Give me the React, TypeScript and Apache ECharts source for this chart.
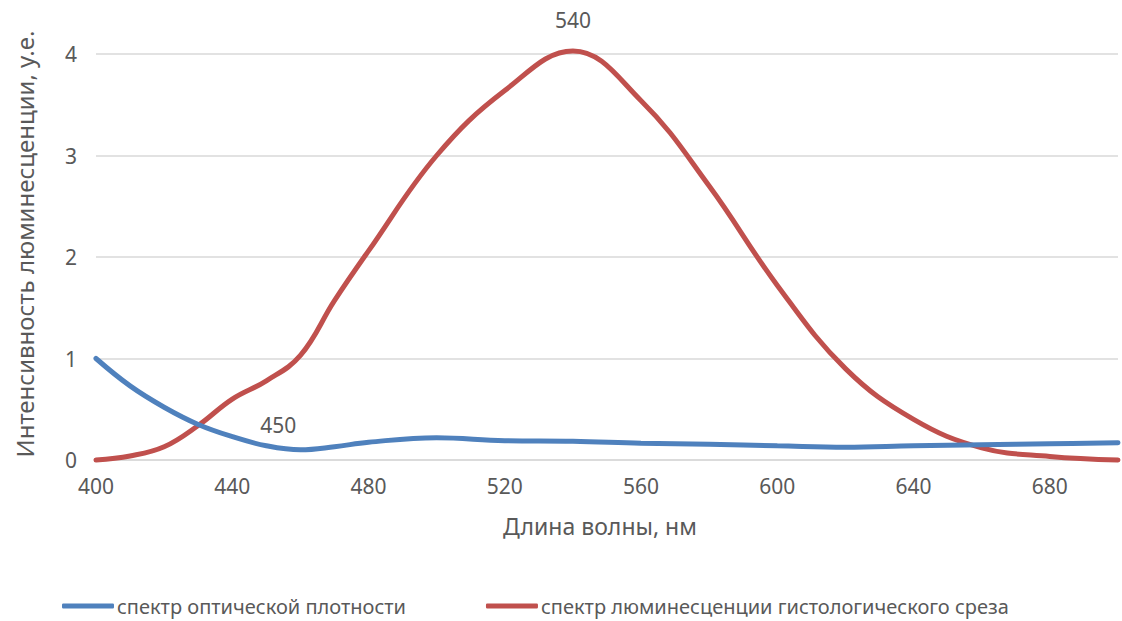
import React, { useEffect, useRef } from "react";
import * as echarts from "echarts";

const wavelengths = [400, 410, 420, 430, 440, 450, 460, 470, 480, 500, 520, 540, 560, 580, 600, 620, 640, 660, 680, 700];
const opticalDensity = [1.0, 0.73, 0.52, 0.35, 0.23, 0.14, 0.1, 0.13, 0.175, 0.22, 0.19, 0.185, 0.165, 0.155, 0.14, 0.125, 0.14, 0.15, 0.16, 0.17];
const luminescence = [0.0, 0.04, 0.13, 0.34, 0.6, 0.78, 1.03, 1.57, 2.06, 3.0, 3.64, 4.03, 3.54, 2.7, 1.72, 0.9, 0.4, 0.12, 0.035, 0.0];
const seriesNames = ["спектр оптической плотности", "спектр люминесценции гистологического среза"];
const labeledBlue = 450;
const labeledRed = 540;

const FONT = "'Noto Sans', 'Open Sans', sans-serif";
const TEXT = "#595959";

export default function App() {
  const ref = useRef<HTMLDivElement>(null);
  useEffect(() => {
    if (!ref.current) return;
    const chart = echarts.init(ref.current, null, { renderer: "svg" });
    const blueData = wavelengths.map((w, i) => {
      const item: any = { value: [w, opticalDensity[i]] };
      if (w === labeledBlue) {
        item.label = { show: true, position: "top", distance: 10, offset: [12, 0], formatter: String(w), color: TEXT, fontSize: 21, fontFamily: FONT };
      }
      return item;
    });
    const redData = wavelengths.map((w, i) => {
      const item: any = { value: [w, luminescence[i]] };
      if (w === labeledRed) {
        item.label = { show: true, position: "top", distance: 20, formatter: String(w), color: TEXT, fontSize: 21, fontFamily: FONT };
      }
      return item;
    });
    chart.setOption({
      animation: false,
      textStyle: { fontFamily: FONT, color: TEXT },
      grid: { left: 96, right: 4, top: 54, bottom: 161, containLabel: false },
      xAxis: {
        type: "value",
        min: 400,
        max: 700,
        interval: 40,
        name: "Длина волны, нм",
        nameLocation: "middle",
        nameGap: 54,
        nameTextStyle: { fontSize: 23, color: TEXT, fontFamily: FONT, padding: [0, 14, 0, 0] },
        axisLine: { show: true, lineStyle: { color: "#D9D9D9", width: 1.5 } },
        axisTick: { show: false },
        splitLine: { show: false },
        axisLabel: { showMaxLabel: false, fontSize: 21, color: TEXT, fontFamily: FONT, margin: 15 },
      },
      yAxis: {
        type: "value",
        min: 0,
        max: 4,
        interval: 1,
        name: "Интенсивность люминесценции, у.е.",
        nameLocation: "middle",
        nameGap: 60,
        nameTextStyle: { fontSize: 24, color: TEXT, fontFamily: FONT, padding: [0, 0, 0, 26] },
        axisLine: { show: false },
        axisTick: { show: false },
        splitLine: { show: true, lineStyle: { color: "#D9D9D9", width: 1.5 } },
        axisLabel: { fontSize: 21, color: TEXT, fontFamily: FONT, margin: 19 },
      },
      legend: {
        bottom: 0,
        left: 57,
        itemGap: 80,
        itemWidth: 52,
        itemHeight: 5,
        icon: "roundRect",
        textStyle: { fontSize: 20, color: TEXT, fontFamily: FONT, padding: [0, 0, 0, -2] },
        data: seriesNames,
      },
      series: [
        {
          name: seriesNames[0],
          type: "line",
          smooth: 0.4,
          showSymbol: true,
          symbol: "circle",
          symbolSize: 0,
          clip: false,
          color: "#4F81BD",
          lineStyle: { width: 5, color: "#4F81BD", cap: "round" },
          data: blueData,
          z: 3,
        },
        {
          name: seriesNames[1],
          type: "line",
          smooth: 0.4,
          showSymbol: true,
          symbol: "circle",
          symbolSize: 0,
          clip: false,
          color: "#C0504D",
          lineStyle: { width: 5, color: "#C0504D", cap: "round" },
          data: redData,
          z: 2,
        },
      ],
    });
    return () => chart.dispose();
  }, []);
  return <div ref={ref} style={{ position: "fixed", left: 0, top: 0, width: 1122, height: 621, background: "#fff" }} />;
}
